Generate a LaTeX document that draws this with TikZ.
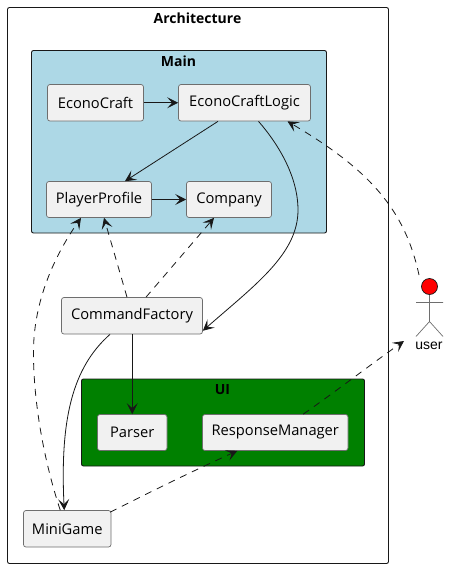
\documentclass[tikz,border=0pt]{standalone}
\usepackage{fontspec}
\setmainfont{Open Sans}
\newfontfamily\actorfont{Liberation Sans}
\usetikzlibrary{arrows.meta,calc}
\definecolor{ink}{HTML}{181818}
\definecolor{boxfill}{HTML}{F1F1F1}
\definecolor{boxedge}{HTML}{6E6E6E}
\definecolor{mainblue}{HTML}{ADD8E6}
\definecolor{uigreen}{HTML}{008000}
\tikzset{
  comp/.style={draw=boxedge,fill=boxfill,line width=0.7pt,rounded corners=2.5pt,inner sep=0pt,
    text=black,font=\fontsize{14.7}{16}\selectfont},
  pack/.style={draw=ink,line width=0.9pt,rounded corners=2pt,inner sep=0pt},
  packtitle/.style={font=\fontsize{14}{16}\selectfont\bfseries,text=black,inner sep=0pt},
  conn/.style={draw=ink,line width=0.8pt,-{Stealth[length=11pt,width=11pt,inset=5pt]}},
  depend/.style={conn,dash pattern=on 7pt off 6pt},
  stick/.style={draw=boxedge,line width=0.7pt}
}
\begin{document}
\begin{tikzpicture}[x=1pt,y=-1pt]
\useasboundingbox (0,0) rectangle (449,568);
% packages
\node[pack,fill=white,minimum width=381pt,minimum height=556pt] (arch) at (198,285.5) {};
\node[packtitle] (archt) at (197.5,18) {Architecture};
\node[pack,fill=mainblue,minimum width=295pt,minimum height=182.5pt] (mainp) at (179,141.75) {};
\node[packtitle] (maint) at (178.5,61) {Main};
\node[pack,fill=uigreen,minimum width=283pt,minimum height=87pt] (uip) at (223,422.5) {};
\node[packtitle] (uit) at (222.5,390) {UI};
% components
\node[comp,minimum width=96pt,minimum height=36.5pt] (econ) at (95.5,102.75) {EconoCraft};
\node[comp,minimum width=132pt,minimum height=36.5pt] (logic) at (244.5,102.75) {EconoCraftLogic};
\node[comp,minimum width=105pt,minimum height=36pt] (prof) at (99,199.5) {PlayerProfile};
\node[comp,minimum width=85pt,minimum height=36pt] (comp) at (229,199.5) {Company};
\node[comp,minimum width=141pt,minimum height=36.5pt] (cmd) at (132,315.75) {CommandFactory};
\node[comp,minimum width=69.5pt,minimum height=36pt] (pars) at (132.25,432.5) {Parser};
\node[comp,minimum width=145.5pt,minimum height=36pt] (resp) at (275.25,432.5) {ResponseManager};
\node[comp,minimum width=87.5pt,minimum height=36.5pt] (mini) at (67.25,528.75) {MiniGame};
% actor
\node[circle,draw=ink,fill=red,line width=0.7pt,minimum size=16pt,inner sep=0pt] (head) at (429.5,286.5) {};
\coordinate (hip) at (429.5,321.5);
\coordinate (armL) at (416,302.5);
\coordinate (armR) at (443,302.5);
\coordinate (legL) at (416,336.5);
\coordinate (legR) at (443,336.5);
\draw[stick] (head.south) -- (hip) (armL) -- (armR) (legL) -- (hip) -- (legR);
\node[font=\actorfont\fontsize{14}{16}\selectfont,text=black,inner sep=0pt] (usr) at (429,346) {user};
% solid connectors
\draw[conn] (econ.east) -- (econ.east -| logic.west);
\draw[conn] ([xshift=-26.5pt]logic.south) -- ([xshift=26pt]prof.north);
\draw[conn] (prof.east) -- (prof.east -| comp.west);
\draw[conn] ([xshift=14pt]logic.south) .. controls (280,146) and (298,178) .. (298,210)
   .. controls (298,254) and (255,285) .. ([yshift=-15pt]cmd.east);
\draw[conn] (cmd.south -| pars.north) -- (pars.north);
\draw[conn] ([xshift=-22pt]cmd.south) .. controls (72,368) and (60,420) .. ([xshift=-3pt]mini.north);
% dashed connectors
\draw[depend] ([xshift=-5pt]cmd.north) -- ([xshift=5pt]prof.south);
\draw[depend] ([xshift=14pt]cmd.north) -- ([xshift=-15pt]comp.south);
\draw[depend] ([xshift=-7pt]mini.north) .. controls (42,455) and (33,395) .. (33.5,350)
   .. controls (34,300) and (55,255) .. ([xshift=-18pt]prof.south);
\draw[depend] ([xshift=43pt,yshift=-2pt]mini.north) .. controls (150,492) and (195,470) .. ([xshift=-38pt]resp.south);
\draw[depend] ([xshift=28pt]resp.north) .. controls (335,392) and (370,365) .. (404,341);
\draw[depend] (419,275) .. controls (405,210) and (370,170) .. ([xshift=43pt]logic.south);
\end{tikzpicture}
\end{document}
